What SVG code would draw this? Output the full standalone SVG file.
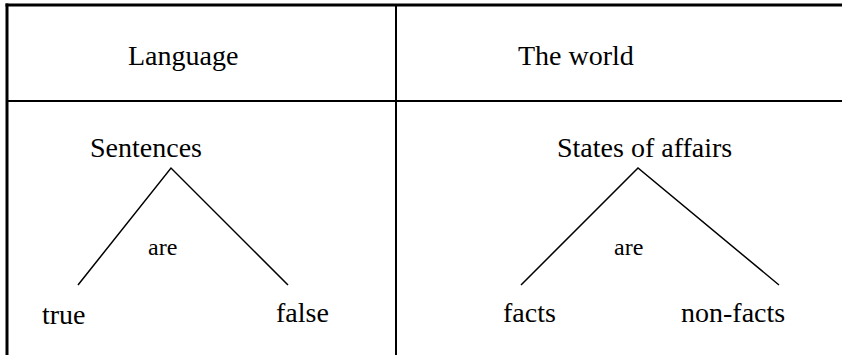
<svg xmlns="http://www.w3.org/2000/svg" width="842" height="355" viewBox="0 0 842 355">
<style>
  text { font-family: "Liberation Serif", "Times New Roman", serif; fill: #000; }
  .t { font-size: 28px; }
  .s { font-size: 24px; }
  .grid { stroke: #000; fill: none; }
  .edge { stroke: #000; stroke-width: 1.5; fill: none; }
</style>
<rect width="842" height="355" fill="#fff"/>
<g id="table">
  <line class="grid" x1="5.5" y1="5" x2="842" y2="5" stroke-width="3"/>
  <line class="grid" x1="7" y1="3.5" x2="7" y2="355" stroke-width="3"/>
  <line class="grid" x1="7" y1="101" x2="842" y2="101" stroke-width="2"/>
  <line class="grid" x1="396" y1="5" x2="396" y2="355" stroke-width="2"/>
</g>
<g id="header-language"><text class="t" x="128" y="65">Language</text></g>
<g id="header-world"><text class="t" x="518" y="65">The world</text></g>
<g id="sentences"><text class="t" x="90" y="157">Sentences</text></g>
<g id="true"><text class="t" x="42" y="324">true</text></g>
<g id="false"><text class="t" x="276" y="322">false</text></g>
<g id="states"><text class="t" x="557" y="157">States of affairs</text></g>
<g id="facts"><text class="t" x="503" y="322">facts</text></g>
<g id="nonfacts"><text class="t" x="681" y="322">non-facts</text></g>
<g id="connectors">
  <polyline class="edge" points="78,285 171,168 288,285"/>
  <polyline class="edge" points="521,285 638,168 779,285"/>
  <text class="s" x="148" y="255">are</text>
  <text class="s" x="614" y="255">are</text>
</g>
</svg>
